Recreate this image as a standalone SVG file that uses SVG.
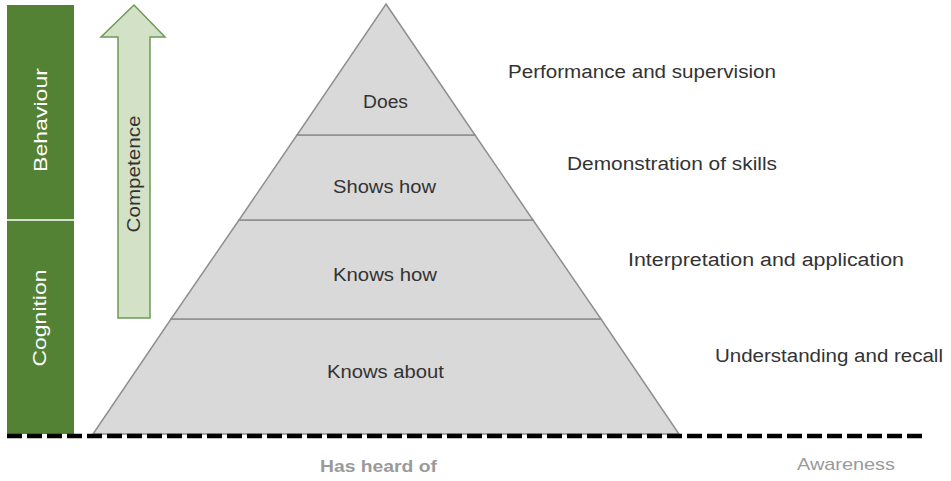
<svg xmlns="http://www.w3.org/2000/svg" width="951" height="481" viewBox="0 0 951 481">
<style>
.lbl{font-family:"Liberation Sans",Arial,sans-serif;font-size:18px;fill:#333333}
.wt{font-family:"Liberation Sans",Arial,sans-serif;font-size:18px;fill:#ffffff}
.lvl{fill:#d9d9d9;stroke:#8f8f8f;stroke-width:1.5}
.gray{font-family:"Liberation Sans",Arial,sans-serif;font-size:17px;fill:#9a9a9a}
</style>
<rect x="0" y="0" width="951" height="481" fill="#ffffff"/>
<g id="domains">
  <rect x="7" y="5" width="67" height="429" fill="#548235"/>
  <line x1="7" y1="220" x2="74" y2="220" stroke="#ffffff" stroke-width="1.5"/>
  <text class="wt" transform="translate(47,120) rotate(-90)" text-anchor="middle" textLength="104" lengthAdjust="spacingAndGlyphs">Behaviour</text>
  <text class="wt" transform="translate(46,318) rotate(-90)" text-anchor="middle" textLength="97" lengthAdjust="spacingAndGlyphs">Cognition</text>
</g>
<g id="competence">
  <polygon points="134,5 165,37 150,37 150,318 118,318 118,37 101,37" fill="#d3e2c7" stroke="#6f9a55" stroke-width="1.5"/>
  <text class="lbl" transform="translate(140,174) rotate(-90)" text-anchor="middle" textLength="117" lengthAdjust="spacingAndGlyphs">Competence</text>
</g>
<g id="pyramid">
  <g id="knows-about">
    <polygon class="lvl" points="171,319 601,319 679,434 93,434"/>
    <text class="lbl" x="385.5" y="378" text-anchor="middle" textLength="117" lengthAdjust="spacingAndGlyphs">Knows about</text>
  </g>
  <g id="knows-how">
    <polygon class="lvl" points="239,220 533,220 601,319 171,319"/>
    <text class="lbl" x="385" y="281" text-anchor="middle" textLength="104" lengthAdjust="spacingAndGlyphs">Knows how</text>
  </g>
  <g id="shows-how">
    <polygon class="lvl" points="297,135 475,135 533,220 239,220"/>
    <text class="lbl" x="384.5" y="193" text-anchor="middle" textLength="103" lengthAdjust="spacingAndGlyphs">Shows how</text>
  </g>
  <g id="does">
    <polygon class="lvl" points="386,4 475,135 297,135"/>
    <text class="lbl" x="385.5" y="108" text-anchor="middle" textLength="45" lengthAdjust="spacingAndGlyphs">Does</text>
  </g>
</g>
<g id="descriptions">
  <text class="lbl" x="508" y="78" textLength="268" lengthAdjust="spacingAndGlyphs">Performance and supervision</text>
  <text class="lbl" x="567" y="170" textLength="210" lengthAdjust="spacingAndGlyphs">Demonstration of skills</text>
  <text class="lbl" x="628" y="266" textLength="276" lengthAdjust="spacingAndGlyphs">Interpretation and application</text>
  <text class="lbl" x="715" y="362" textLength="228" lengthAdjust="spacingAndGlyphs">Understanding and recall</text>
</g>
<g id="connectors">
  <line x1="7" y1="436" x2="923" y2="436" stroke="#000000" stroke-width="4.5" stroke-dasharray="15,5"/>
</g>
<g id="awareness">
  <text class="gray" x="320" y="472" font-weight="bold" fill="#8a8a8a" textLength="117" lengthAdjust="spacingAndGlyphs">Has heard of</text>
  <text class="gray" x="797" y="470" textLength="98" lengthAdjust="spacingAndGlyphs">Awareness</text>
</g>
</svg>
